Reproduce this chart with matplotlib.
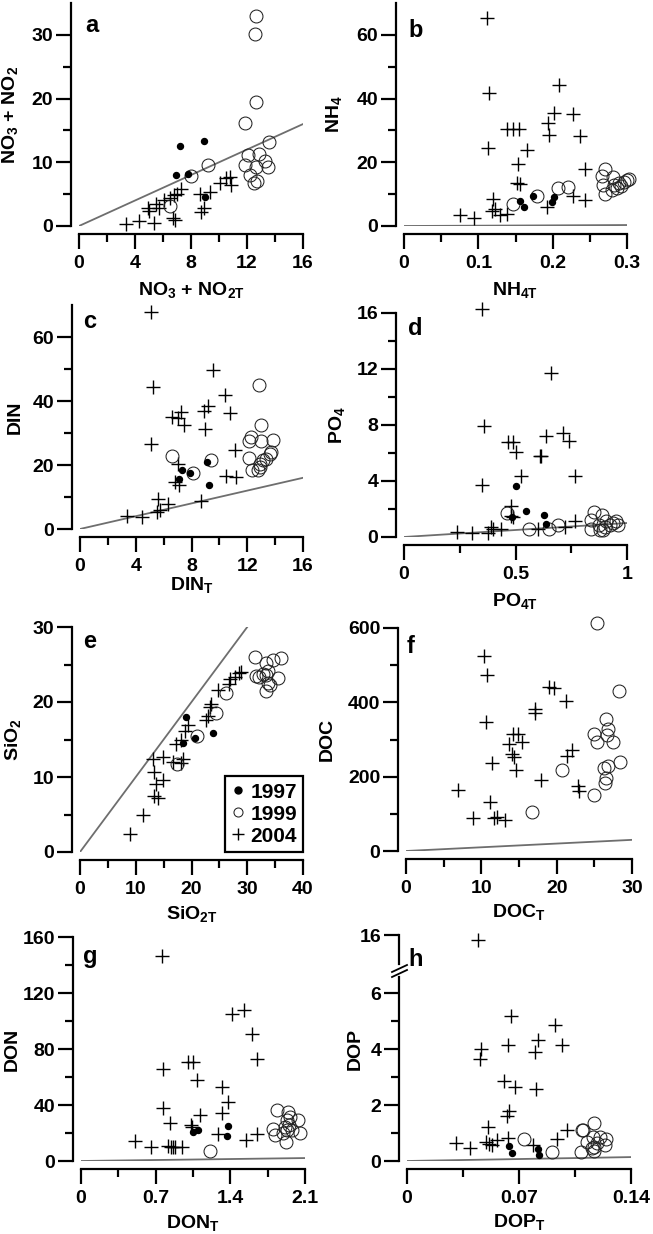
import numpy as np
import matplotlib.pyplot as plt
from matplotlib.lines import Line2D

plt.rcParams['font.family'] = ['Liberation Sans', 'DejaVu Sans']
plt.rcParams['font.weight'] = 'bold'
plt.rcParams['mathtext.fontset'] = 'custom'
plt.rcParams['mathtext.rm'] = 'Liberation Sans:bold'
plt.rcParams['mathtext.it'] = 'Liberation Sans:bold'
plt.rcParams['mathtext.bf'] = 'Liberation Sans:bold'
plt.rcParams['mathtext.default'] = 'rm'

YEARS = ['1997', '1999', '2004']

# a: NO3 + NO2 (y) vs NO3 + NO2T (x)
A97_X = [7.2, 8.9, 6.95, 7.75, 9.0]
A97_Y = [12.6, 13.3, 8.0, 8.2, 4.5]
A99_X = [12.67, 12.55, 12.67, 11.83, 13.55, 9.21, 7.98, 6.52, 12.07, 12.86, 11.83, 12.67, 13.31, 13.5, 12.19, 12.48, 12.7]
A99_Y = [33.0, 30.2, 19.4, 16.2, 13.2, 9.5, 7.9, 3.2, 11.2, 11.3, 9.5, 9.3, 10.2, 9.2, 8.0, 6.8, 7.1]
A04_X = [3.33, 4.29, 4.93, 5.0, 5.36, 5.52, 5.71, 6.05, 6.52, 6.79, 6.71, 6.83, 7.0, 7.31, 8.62, 8.69, 8.9, 9.33, 10.05, 10.48, 10.76, 10.88]
A04_Y = [0.3, 0.85, 2.8, 2.35, 0.5, 3.45, 2.8, 4.1, 4.35, 4.9, 1.2, 0.95, 5.0, 5.75, 5.1, 2.15, 2.9, 5.3, 6.8, 7.55, 7.75, 6.5]

# b: NH4 vs NH4T
B97_X = [0.156, 0.161, 0.174, 0.199, 0.202]
B97_Y = [7.75, 6.0, 9.4, 7.4, 9.2]
B99_X = [0.146, 0.179, 0.207, 0.221, 0.270, 0.267, 0.268, 0.271, 0.281, 0.283, 0.286, 0.289, 0.292, 0.296, 0.300, 0.303, 0.280]
B99_Y = [6.9, 9.4, 12.0, 12.1, 17.8, 15.7, 12.9, 10.1, 15.3, 12.9, 11.8, 13.6, 12.4, 13.9, 14.4, 14.7, 11.3]
B04_X = [0.111, 0.115, 0.113, 0.138, 0.147, 0.155, 0.165, 0.154, 0.152, 0.156, 0.120, 0.118, 0.122, 0.129,
         0.139, 0.076, 0.094, 0.194, 0.195, 0.202, 0.209, 0.227, 0.237, 0.244, 0.228, 0.244, 0.192]
B04_Y = [65.2, 41.9, 24.4, 30.4, 30.4, 30.4, 23.9, 19.4, 13.6, 13.2, 8.5, 4.8, 5.2, 3.5,
         3.8, 3.5, 2.6, 32.3, 28.6, 35.6, 44.3, 35.2, 28.1, 17.8, 9.4, 8.2, 5.9]

# c: DIN vs DINT
C97_X = [7.30, 7.92, 7.09, 9.14, 9.24]
C97_Y = [18.5, 17.5, 15.7, 20.8, 13.75]
C99_X = [12.84, 6.63, 8.11, 9.43, 12.96, 12.29, 12.12, 13.0, 13.84, 12.12, 12.36, 12.77, 12.9, 13.13, 13.37, 13.6, 13.72, 12.94]
C99_Y = [44.9, 22.8, 17.5, 21.7, 32.4, 28.75, 27.5, 27.5, 27.7, 22.3, 18.3, 18.3, 20.4, 21.5, 22.0, 23.5, 24.1, 19.4]
C04_X = [5.13, 5.25, 5.13, 9.55, 10.38, 10.74, 7.28, 6.63, 7.04, 7.47, 8.88, 9.19, 8.95, 11.15, 10.45, 11.17,
         7.0, 6.85, 7.09, 5.61, 6.32, 5.49, 5.73, 8.71, 3.34, 4.42]
C04_Y = [67.8, 44.4, 26.7, 49.6, 42.0, 36.25, 36.6, 35.0, 34.8, 32.4, 36.9, 38.4, 31.4, 24.6, 16.6, 16.25,
         20.4, 14.7, 13.65, 9.5, 7.9, 5.3, 5.8, 8.75, 4.0, 3.75]

# d: PO4 vs PO4T
D97_X = [0.504, 0.545, 0.628, 0.636, 0.485]
D97_Y = [3.67, 1.88, 1.57, 0.93, 1.45]
D99_X = [0.464, 0.561, 0.651, 0.691, 0.851, 0.89, 0.84, 0.84, 0.876, 0.90, 0.893, 0.922, 0.937, 0.952, 0.96, 0.906, 0.881]
D99_Y = [1.71, 0.57, 0.57, 0.88, 1.76, 1.6, 1.24, 0.57, 0.88, 0.71, 0.48, 0.88, 1.0, 1.12, 0.88, 1.12, 0.52]
D04_X = [0.351, 0.358, 0.351, 0.467, 0.487, 0.504, 0.524, 0.609, 0.616, 0.636, 0.658, 0.713, 0.74, 0.766,
         0.478, 0.482, 0.487, 0.766, 0.236, 0.303, 0.378, 0.39, 0.40, 0.437, 0.60, 0.72]
D04_Y = [16.3, 7.9, 3.74, 6.8, 6.8, 6.07, 4.33, 5.8, 5.8, 7.2, 11.7, 7.4, 6.83, 4.33,
         2.24, 1.48, 1.4, 1.12, 0.36, 0.29, 0.29, 0.69, 0.57, 0.57, 0.57, 0.71]

# e: SiO2 vs SiO2T
E97_X = [18.93, 18.39, 20.6, 23.82]
E97_Y = [18.0, 14.53, 15.2, 15.87]
E99_X = [17.43, 21.07, 24.48, 26.15, 31.46, 31.64, 33.43, 33.3, 34.63, 36.0, 35.5, 33.73, 33.43, 34.15, 32.84, 33.73, 32.1]
E99_Y = [11.69, 15.47, 18.58, 21.2, 26.0, 23.42, 23.55, 25.2, 25.55, 25.87, 23.2, 22.6, 21.5, 22.3, 23.76, 24.2, 23.33]
E04_X = [8.96, 11.34, 13.25, 14.03, 13.61, 14.93, 13.31, 13.13, 14.8, 16.6, 18.39, 18.2, 17.3, 18.2, 18.8, 19.4,
         22.57, 23.0, 23.28, 23.58, 24.78, 26.75, 26.87, 27.76, 28.5, 28.96]
E04_Y = [2.44, 4.9, 7.47, 7.24, 9.1, 9.55, 10.67, 12.4, 12.67, 12.0, 12.36, 11.87, 14.36, 14.9, 16.2, 16.9,
         17.64, 18.2, 19.33, 19.78, 21.64, 22.44, 23.1, 23.4, 23.9, 24.0]

# f: DOC vs DOCT (no 1997 samples)
F97_X = []
F97_Y = []
F99_X = [25.3, 28.21, 16.66, 20.73, 24.94, 25.39, 26.56, 26.87, 26.64, 27.54, 28.35, 26.28, 26.87, 26.56, 26.42, 24.94]
F99_Y = [614, 430, 106, 218, 316, 294, 356, 327, 312, 294, 240, 224, 229, 197, 182, 152]
F04_X = [10.39, 10.75, 10.66, 6.94, 8.87, 11.2, 11.42, 11.73, 12.09, 13.08, 13.66, 14.24, 14.91, 14.1, 14.33,
         14.64, 15.45, 17.91, 17.15, 17.15, 18.94, 19.6, 21.27, 21.36, 22.08, 22.84, 22.97]
F04_Y = [524, 473, 346, 164, 89.5, 131, 238, 89.5, 92, 83, 287, 314, 314, 262, 253,
         218, 292, 192, 383, 372, 441, 439, 403, 256, 273, 175, 161]

# g: DON vs DONT
G97_X = [1.053, 1.094, 1.375, 1.366]
G97_Y = [20.5, 22.2, 24.8, 17.9]
G99_X = [1.209, 1.834, 1.944, 1.959, 1.928, 2.031, 1.913, 1.928, 1.803, 1.819, 1.975, 2.053, 1.922, 1.897, 1.953]
G99_Y = [7.15, 36.5, 35.3, 31.7, 29.3, 29.3, 24.6, 22.2, 22.6, 18.6, 22.2, 19.8, 13.8, 19.8, 25.8]
G04_X = [0.756, 0.772, 0.766, 0.834, 0.506, 0.653, 0.819, 0.841, 0.859, 0.881, 0.944, 1.006, 1.047, 1.091,
         1.116, 1.028, 1.038, 1.319, 1.319, 1.375, 1.288, 1.419, 1.528, 1.6, 1.647, 1.547, 1.653]
G04_Y = [146.6, 65.6, 37.7, 27.4, 14.5, 10.3, 10.7, 10.3, 9.8, 9.8, 9.8, 70.6, 70.6, 57.9,
         32.9, 25.8, 24.6, 53.2, 34.1, 41.8, 19.1, 105.2, 108.0, 90.6, 72.7, 15.0, 19.1]

# h: DOP vs DOPT (broken y axis)
H97_X = [0.0639, 0.0658, 0.0821, 0.0827]
H97_Y = [0.53, 0.29, 0.42, 0.23]
H99_X = [0.0731, 0.0905, 0.1093, 0.117, 0.1086, 0.1162, 0.1208, 0.1245, 0.1239, 0.1187, 0.1156, 0.117, 0.1124, 0.1103, 0.1166]
H99_Y = [0.78, 0.32, 1.11, 1.35, 0.32, 0.87, 0.85, 0.78, 0.57, 0.63, 0.45, 0.37, 0.69, 1.1, 0.51]
H04_X = [0.0445, 0.0648, 0.0633, 0.0462, 0.0455, 0.0926, 0.0967, 0.0821, 0.08, 0.0806, 0.0606, 0.0675, 0.0639,
         0.0622, 0.0508, 0.0999, 0.0936, 0.0633, 0.056, 0.0491, 0.0514, 0.0529, 0.0309, 0.0393, 0.079]
H04_Y = [15.82, 5.19, 4.15, 4.01, 3.65, 4.84, 4.15, 4.33, 3.91, 2.56, 2.86, 2.65, 1.8,
         1.59, 1.23, 1.11, 0.78, 0.81, 0.75, 0.67, 0.6, 0.57, 0.63, 0.45, 0.57]

W, H = 653, 1234
OFFSET = 8 * 72 / 100  # spines pushed out by 8 px
FS = 14

fig = plt.figure(figsize=(W / 100, H / 100), dpi=100)


def make_axes(l, t, r, b):
    return fig.add_axes([l / W, 1 - b / H, (r - l) / W, (b - t) / H])


def style(ax, xlim, ylim, xt, xtl, xm, yt, ytl, ym):
    ax.set_xlim(*xlim)
    ax.set_ylim(*ylim)
    ax.set_xticks(xt, xtl, fontweight='bold')
    ax.set_xticks(xm, minor=True)
    ax.set_yticks(yt, ytl, fontweight='bold')
    ax.set_yticks(ym, minor=True)
    for s in ['top', 'right']:
        ax.spines[s].set_visible(False)
    for s in ['left', 'bottom']:
        ax.spines[s].set_position(('outward', OFFSET))
        ax.spines[s].set_linewidth(1.6)
    ax.tick_params(which='both', direction='out', width=1.6, labelsize=FS)
    ax.tick_params(which='major', length=10.8)
    ax.tick_params(which='minor', length=5.8)
    ax.tick_params(axis='x', pad=4.5)
    ax.tick_params(axis='y', pad=2)
    ax.patch.set_visible(False)


def draw(ax, x97, y97, x99, y99, x04, y04):
    ax.axline((0, 0), slope=1, color='#6e6e6e', lw=1.3, zorder=2)
    ax.plot(x04, y04, ls='none', marker='+', ms=10, mew=1.0, color='black', clip_on=False, zorder=3)
    ax.plot(x99, y99, ls='none', marker='o', ms=9.3, mfc='none', mec='#222222', mew=0.75, clip_on=False, zorder=4)
    ax.plot(x97, y97, ls='none', marker='o', ms=4.3, color='black', clip_on=False, zorder=5)


def labels(ax, box, xlabel, ylabel, xl_y, yl_x, yl_y=None):
    l, t, r, b = box
    if yl_y is None:
        yl_y = (t + b) / 2
    ax.set_xlabel(xlabel, fontsize=FS, fontweight='bold', va='center')
    ax.xaxis.set_label_coords(0.5, (b - xl_y) / (b - t))
    ax.set_ylabel(ylabel, fontsize=FS, fontweight='bold', va='center')
    ax.yaxis.set_label_coords((yl_x - l) / (r - l), (b - yl_y) / (b - t))


def letter(x, y, s):
    fig.text(x / W, 1 - y / H, s, fontsize=17, fontweight='bold', va='baseline')


# a
box = (79, 3, 303, 226)
ax = make_axes(*box)
style(ax, (0, 16), (0, 35), [0, 4, 8, 12, 16], ['0', '4', '8', '12', '16'], [2, 6, 10, 14],
      [0, 10, 20, 30], ['0', '10', '20', '30'], [5, 15, 25])
draw(ax, A97_X, A97_Y, A99_X, A99_Y, A04_X, A04_Y)
labels(ax, box, r'NO$_3$ + NO$_{2T}$', r'NO$_3$ + NO$_2$', 290, 10)
letter(85, 32, 'a')

# b
box = (404, 3, 627, 226)
ax = make_axes(*box)
style(ax, (0, 0.3), (0, 70), [0, 0.1, 0.2, 0.3], ['0', '0.1', '0.2', '0.3'], [0.05, 0.15, 0.25],
      [0, 20, 40, 60], ['0', '20', '40', '60'], [10, 30, 50])
draw(ax, B97_X, B97_Y, B99_X, B99_Y, B04_X, B04_Y)
labels(ax, box, r'NH$_{4T}$', r'NH$_4$', 290, 334)
letter(408, 37, 'b')

# c
box = (80, 305, 303, 529)
ax = make_axes(*box)
style(ax, (0, 16), (0, 70), [0, 4, 8, 12, 16], ['0', '4', '8', '12', '16'], [2, 6, 10, 14],
      [0, 20, 40, 60], ['0', '20', '40', '60'], [10, 30, 50])
draw(ax, C97_X, C97_Y, C99_X, C99_Y, C04_X, C04_Y)
labels(ax, box, r'DIN$_T$', 'DIN', 585, 15)
letter(83, 328, 'c')

# d
box = (404, 313, 627, 537)
ax = make_axes(*box)
style(ax, (0, 1), (0, 16), [0, 0.5, 1], ['0', '0.5', '1'], [0.25, 0.75],
      [0, 4, 8, 12, 16], ['0', '4', '8', '12', '16'], [2, 6, 10, 14])
draw(ax, D97_X, D97_Y, D99_X, D99_Y, D04_X, D04_Y)
labels(ax, box, r'PO$_{4T}$', r'PO$_4$', 601, 337)
letter(408, 335, 'd')

# e
box = (80, 627, 303, 852)
ax = make_axes(*box)
style(ax, (0, 40), (0, 30), [0, 10, 20, 30, 40], ['0', '10', '20', '30', '40'], [5, 15, 25, 35],
      [0, 10, 20, 30], ['0', '10', '20', '30'], [5, 15, 25])
draw(ax, E97_X, E97_Y, E99_X, E99_Y, E04_X, E04_Y)
labels(ax, box, r'SiO$_{2T}$', r'SiO$_2$', 914, 13)
letter(83, 648, 'e')
handles = [
    Line2D([], [], ls='none', marker='o', ms=5, color='black'),
    Line2D([], [], ls='none', marker='o', ms=6.5, mfc='none', mec='#222222', mew=0.75),
    Line2D([], [], ls='none', marker='+', ms=8.5, mew=1.0, color='black'),
]
leg = ax.legend(handles, YEARS, loc='lower right', bbox_to_anchor=(1, 0), borderaxespad=0,
                fancybox=False, edgecolor='black', framealpha=1,
                prop={'size': 15, 'weight': 'bold'},
                handlelength=0.6, handletextpad=0.3, borderpad=0.3, labelspacing=0.15)
leg.get_frame().set_linewidth(1.6)

# f
box = (406, 628, 632, 851)
ax = make_axes(*box)
style(ax, (0, 30), (0, 600), [0, 10, 20, 30], ['0', '10', '20', '30'], [5, 15, 25],
      [0, 200, 400, 600], ['0', '200', '400', '600'], [100, 300, 500])
draw(ax, F97_X, F97_Y, F99_X, F99_Y, F04_X, F04_Y)
labels(ax, box, r'DOC$_T$', 'DOC', 912, 327)
letter(407, 653, 'f')

# g
box = (81, 937, 305, 1161)
ax = make_axes(*box)
style(ax, (0, 2.1), (0, 160), [0, 0.7, 1.4, 2.1], ['0', '0.7', '1.4', '2.1'], [0.35, 1.05, 1.75],
      [0, 40, 80, 120, 160], ['0', '40', '80', '120', '160'], [20, 60, 100, 140])
draw(ax, G97_X, G97_Y, G99_X, G99_Y, G04_X, G04_Y)
labels(ax, box, r'DON$_T$', 'DON', 1223, 12)
letter(83, 963, 'g')

# h: lower part 0..6.6 and upper part near 16
h_x04 = np.array(H04_X)
h_y04 = np.array(H04_Y)
high = h_y04 > 10

box = (407, 977, 631, 1161)
ax = make_axes(*box)
style(ax, (0, 0.14), (0, (1161 - 977) / 28), [0, 0.07, 0.14], ['0', '0.07', '0.14'], [0.035, 0.105],
      [0, 2, 4, 6], ['0', '2', '4', '6'], [1, 3, 5])
draw(ax, H97_X, H97_Y, H99_X, H99_Y, h_x04[~high], h_y04[~high])
labels(ax, box, r'DOP$_T$', 'DOP', 1222, 355, 1049)

box_top = (407, 935, 631, 964)
ax_top = make_axes(*box_top)
style(ax_top, (0, 0.14), (16 - 29 / 28, 16), [], [], [], [16], ['16'], [])
ax_top.spines['bottom'].set_visible(False)
ax_top.tick_params(axis='x', which='both', bottom=False, labelbottom=False)
ax_top.plot(h_x04[high], h_y04[high], ls='none', marker='+', ms=10, mew=1.0, color='black',
            clip_on=False, zorder=3)
letter(408, 966, 'h')

# break marks on the h axis
for dy in (0, 5):
    fig.add_artist(Line2D([392 / W, 407 / W], [1 - (972 + dy) / H, 1 - (965 + dy) / H],
                          color='black', lw=1.3))

fig.savefig('out.png', dpi=100)
